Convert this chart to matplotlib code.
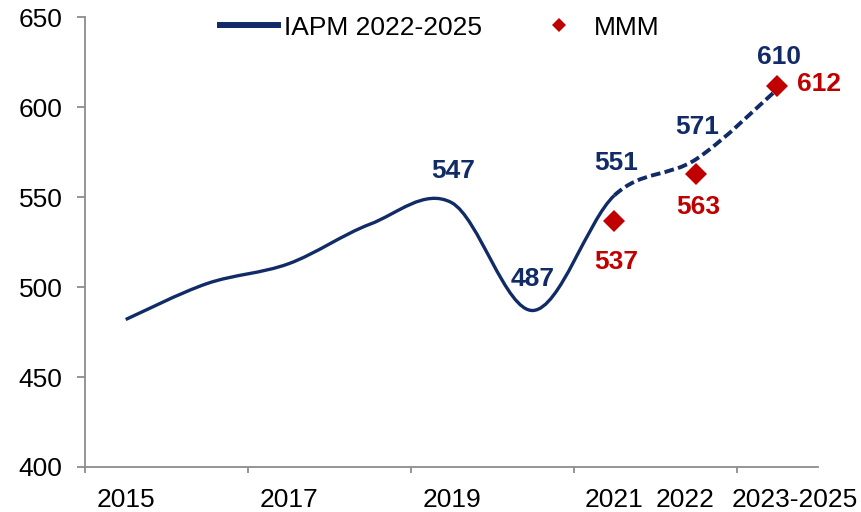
import numpy as np
import matplotlib
matplotlib.use("Agg")
import matplotlib.pyplot as plt
import matplotlib.transforms as mtransforms
from matplotlib.path import Path
from matplotlib.patches import PathPatch
from matplotlib.lines import Line2D

# ---- data ----
categories = ["2015", "2016", "2017", "2018", "2019", "2020", "2021", "2022", "2023-2025"]
shown_labels = ["2015", "", "2017", "", "2019", "", "2021", "2022", "2023-2025"]
iapm = [482, 502, 513, 535, 547, 487, 551, 571, 610]
iapm_labeled_idx = [4, 5, 6, 7, 8]
mmm_idx = [6, 7, 8]
mmm = [537, 563, 612]
legend_labels = ["IAPM 2022-2025", "MMM"]
yticks = [400, 450, 500, 550, 600, 650]

# ---- style ----
plt.rcParams['font.family'] = ['Liberation Sans', 'DejaVu Sans']
NAVY = '#102B66'
RED = '#C00000'
GRAY = '#8C8C8C'
FS = 19

fig = plt.figure(figsize=(8.61, 5.12), dpi=100)
ax = fig.add_axes([85 / 861, 45 / 512, (818 - 85) / 861, (467 - 17.3) / 512])
x = np.arange(len(categories))
ax.set_xlim(-0.5, len(categories) - 0.5)
ax.set_ylim(yticks[0], yticks[-1])


def smooth_path(xs, ys, i0, i1):
    n = len(xs)
    verts = [(xs[i0], ys[i0])]
    codes = [Path.MOVETO]
    for i in range(i0, i1):
        p0 = np.array([xs[max(i - 1, 0)], ys[max(i - 1, 0)]], float)
        p1 = np.array([xs[i], ys[i]], float)
        p2 = np.array([xs[i + 1], ys[i + 1]], float)
        p3 = np.array([xs[min(i + 2, n - 1)], ys[min(i + 2, n - 1)]], float)
        c1 = p1 + (p2 - p0) / 6.0
        c2 = p2 - (p3 - p1) / 6.0
        verts += [tuple(c1), tuple(c2), tuple(p2)]
        codes += [Path.CURVE4] * 3
    return Path(verts, codes)


split = categories.index("2021")
ax.add_patch(PathPatch(smooth_path(x, iapm, 0, split), facecolor='none',
                       edgecolor=NAVY, lw=2.4, capstyle='butt'))
ax.add_patch(PathPatch(smooth_path(x, iapm, split, len(x) - 1), facecolor='none',
                       edgecolor=NAVY, lw=2.8, capstyle='butt',
                       linestyle=(0, (2.5, 1.1))))

ax.plot(x[mmm_idx], mmm, ls='none', marker='D', ms=11.5, color=RED,
        markeredgewidth=0, zorder=3)

# labels
blue_offsets = [(1, 23), (0, 23), (1, 23), (1, 23), (1, 23)]
for k, i in enumerate(iapm_labeled_idx):
    ax.annotate(str(iapm[i]), (x[i], iapm[i]), xytext=blue_offsets[k],
                textcoords='offset points', ha='center', va='center',
                fontsize=FS, fontweight='bold', color=NAVY)
red_offsets = [(1, -30), (2, -24), (14, 1)]
red_ha = ['center', 'center', 'left']
for k, i in enumerate(mmm_idx):
    ax.annotate(str(mmm[k]), (x[i], mmm[k]), xytext=red_offsets[k],
                textcoords='offset points', ha=red_ha[k], va='center',
                fontsize=FS, fontweight='bold', color=RED)

# axes styling
for s in ['top', 'right']:
    ax.spines[s].set_visible(False)
for s in ['left', 'bottom']:
    ax.spines[s].set_color(GRAY)
    ax.spines[s].set_linewidth(1.3)

ax.set_yticks(yticks)
ax.set_yticklabels([str(v) for v in yticks])
ax.tick_params(axis='y', direction='out', length=5.8, width=1.3, color=GRAY,
               pad=10.5, labelsize=FS)

ax.set_xticks(np.arange(-0.5, len(categories), 2))
ax.set_xticklabels([])
ax.set_xticks(x, minor=True)
ax.set_xticklabels(shown_labels, minor=True)
ax.tick_params(axis='x', which='major', direction='out', length=4.3, width=1.3, color=GRAY)
ax.tick_params(axis='x', which='minor', length=0, pad=15, labelsize=FS)

# nudge crowded category labels apart (as the original does)
label_shift_px = {"2022": -10.5, "2023-2025": 17.5}
for lab in ax.get_xticklabels(minor=True):
    sh = label_shift_px.get(lab.get_text())
    if sh:
        lab.set_transform(lab.get_transform() +
                          mtransforms.ScaledTranslation(sh / 100, 0, fig.dpi_scale_trans))

handles = [Line2D([], [], color=NAVY, lw=4.3),
           Line2D([], [], marker='D', color=RED, ls='none', ms=7.5, markeredgewidth=0)]
ax.legend(handles, legend_labels, ncol=2, loc='center', bbox_to_anchor=(0.484, 0.977),
          frameon=False, fontsize=FS, handlelength=2.2, handletextpad=0.2,
          columnspacing=1.85, borderaxespad=0)

fig.savefig("out.png", dpi=100)
